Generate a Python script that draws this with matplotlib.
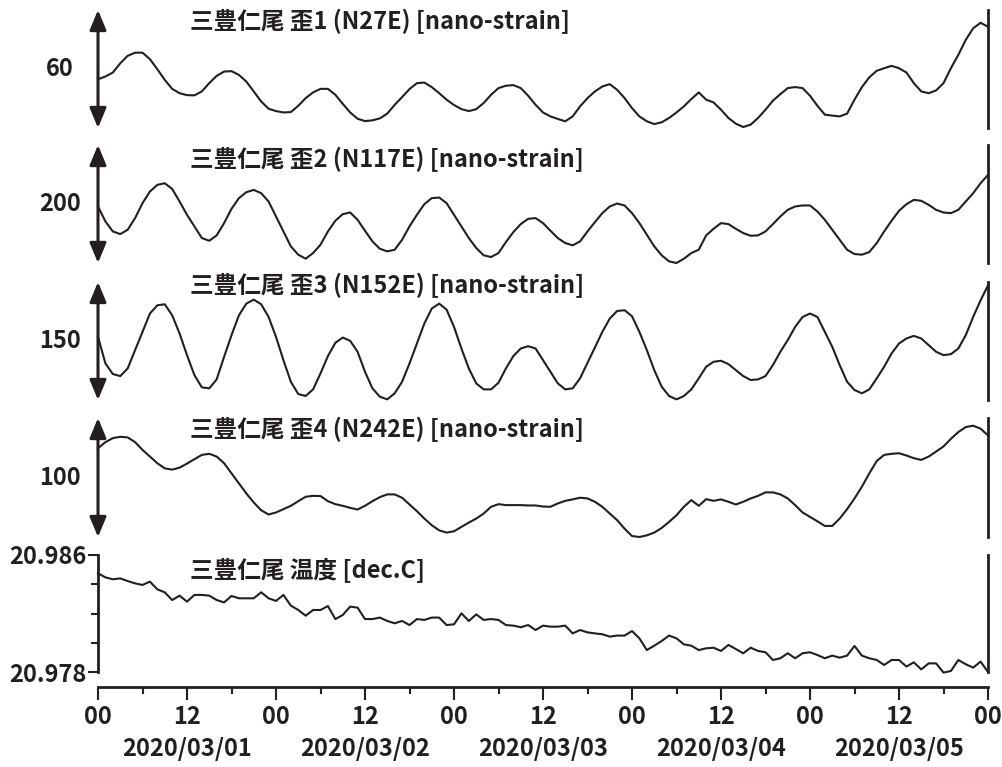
import numpy as np
import pandas as pd
import matplotlib
matplotlib.use('Agg')
import matplotlib.pyplot as plt
import matplotlib.dates as mdates
from matplotlib.patches import ArrowStyle

plt.rcParams['font.family'] = ['Noto Sans CJK JP', 'DejaVu Sans']
plt.rcParams['font.weight'] = 'bold'

# hourly samples, 2020/03/01 00:00 .. 2020/03/06 00:00
times = pd.date_range('2020-03-01 00:00', '2020-03-06 00:00', freq='h')
days = pd.date_range('2020-03-01', '2020-03-05', freq='D')

# strain values [nano-strain], relative to the bottom of each scale bar
strain1 = [24.8, 26.2, 28.2, 32.9, 36.7, 38.3, 38.3, 35.0, 29.9, 24.5,
           19.9, 17.7, 16.7, 16.6, 18.6, 22.8, 26.5, 28.7, 28.9, 27.0,
           23.6, 18.6, 13.5, 9.8, 8.6, 7.9, 8.1, 11.3, 15.2, 18.1,
           19.9, 19.9, 16.9, 12.3, 7.9, 4.7, 3.5, 3.9, 4.9, 7.3,
           11.8, 15.7, 19.8, 22.8, 23.1, 20.8, 17.7, 14.4, 11.7, 9.6,
           8.6, 9.6, 12.7, 16.9, 20.3, 21.5, 21.8, 20.3, 16.4, 11.8,
           7.9, 5.9, 4.6, 3.4, 5.9, 11.0, 15.2, 18.6, 21.1, 22.3,
           19.4, 15.2, 10.1, 5.9, 3.4, 2.0, 2.9, 5.1, 7.9, 11.0,
           14.7, 18.1, 14.4, 13.0, 9.3, 5.1, 2.2, 0.5, 1.7, 5.1,
           9.3, 13.9, 17.2, 20.3, 20.8, 20.3, 16.4, 11.3, 6.8, 6.3,
           5.9, 7.3, 14.4, 20.8, 25.8, 29.1, 30.4, 31.6, 30.4, 28.2,
           22.8, 18.6, 17.7, 19.1, 22.8, 30.4, 37.2, 44.8, 50.7, 53.5,
           51.5]
strain2 = [95.8, 70.4, 53.5, 49.0, 56.3, 76.1, 101.4, 121.1, 132.4, 135.2,
           125.6, 104.2, 81.7, 62.0, 42.3, 37.7, 46.8, 67.6, 91.8, 109.9,
           120.0, 123.9, 118.3, 104.2, 78.9, 53.5, 28.2, 14.1, 7.3, 16.9,
           31.0, 53.5, 71.6, 82.8, 85.6, 73.2, 54.7, 36.6, 24.2, 19.7,
           22.5, 39.4, 62.0, 81.7, 99.7, 109.9, 111.0, 101.4, 81.7, 62.0,
           42.3, 25.4, 13.0, 10.1, 16.9, 35.5, 52.4, 65.9, 74.9, 76.1,
           67.6, 54.7, 42.3, 33.8, 29.9, 36.6, 53.5, 69.3, 84.5, 95.8,
           100.8, 97.5, 84.5, 67.6, 47.9, 28.2, 13.0, 2.8, 0.0, 7.3,
           16.9, 22.5, 46.8, 58.0, 67.6, 65.9, 58.0, 50.7, 46.2, 46.8,
           53.5, 65.9, 78.9, 90.1, 95.8, 97.5, 97.5, 87.3, 73.2, 56.3,
           39.4, 22.5, 15.2, 14.1, 18.6, 33.8, 53.5, 71.6, 88.5, 99.7,
           107.0, 105.4, 98.6, 90.1, 85.6, 84.5, 90.1, 104.2, 118.3, 135.2,
           149.3]
strain3 = [80.3, 46.5, 33.0, 30.4, 40.1, 63.4, 86.6, 109.9, 120.4, 121.7,
           107.7, 84.5, 57.0, 31.7, 16.1, 14.8, 26.2, 54.9, 82.4, 107.7,
           122.5, 127.6, 121.7, 105.6, 80.3, 50.7, 23.2, 7.6, 5.1, 13.5,
           33.8, 55.8, 72.7, 79.4, 75.2, 61.3, 35.9, 14.8, 4.2, 0.8,
           8.5, 23.2, 46.5, 71.8, 97.2, 116.2, 122.5, 114.9, 93.0, 65.5,
           40.1, 21.1, 13.5, 13.5, 22.0, 40.1, 55.8, 65.5, 68.4, 65.5,
           50.7, 35.9, 21.1, 13.5, 14.8, 27.5, 47.3, 66.8, 86.6, 103.5,
           113.2, 114.1, 106.5, 86.6, 63.4, 38.0, 16.9, 5.1, 0.8, 5.1,
           13.5, 27.5, 42.3, 48.6, 49.9, 45.6, 38.0, 30.4, 25.4, 26.2,
           30.4, 44.4, 61.3, 76.1, 93.0, 105.6, 109.9, 105.6, 86.6, 67.6,
           44.4, 23.2, 12.7, 8.5, 13.5, 27.5, 42.3, 59.2, 71.8, 78.2,
           81.5, 78.2, 69.7, 61.3, 57.0, 58.3, 65.5, 82.4, 105.6, 126.7,
           145.7]
strain4 = [74.6, 79.7, 83.1, 84.2, 83.7, 79.7, 73.2, 67.6, 62.0, 57.7,
           56.6, 58.3, 61.7, 65.4, 69.0, 69.9, 67.6, 62.0, 53.5, 45.1,
           36.6, 29.0, 22.5, 18.9, 20.6, 23.4, 26.2, 30.1, 33.8, 34.6,
           34.4, 30.1, 27.6, 26.2, 24.5, 23.1, 26.2, 30.1, 33.5, 35.8,
           35.8, 33.0, 27.3, 21.7, 15.5, 9.9, 5.6, 3.7, 4.8, 8.5,
           12.1, 15.5, 19.7, 25.4, 27.6, 26.8, 26.8, 26.8, 26.5, 26.5,
           25.6, 25.4, 28.2, 30.4, 31.6, 33.0, 32.4, 29.6, 25.4, 19.7,
           14.1, 7.0, 0.8, 0.0, 1.4, 3.7, 7.6, 12.7, 18.3, 25.4,
           31.0, 26.2, 31.8, 30.4, 31.6, 29.6, 27.3, 29.6, 32.4, 34.6,
           37.5, 37.5, 35.8, 32.4, 26.8, 20.6, 16.9, 13.2, 9.3, 9.3,
           15.5, 23.4, 32.4, 42.3, 53.5, 63.9, 69.0, 69.9, 70.4, 68.5,
           66.2, 64.8, 67.6, 71.8, 76.1, 82.5, 88.2, 92.4, 93.5, 91.0,
           85.4]
# temperature [deg C]
temperature = [20.98475, 20.98447, 20.98434, 20.98440, 20.98422, 20.98406, 20.98395, 20.98418, 20.98365, 20.98345,
               20.98292, 20.98322, 20.98281, 20.98327, 20.98327, 20.98322, 20.98292, 20.98276, 20.98320, 20.98304,
               20.98304, 20.98304, 20.98345, 20.98304, 20.98286, 20.98327, 20.98254, 20.98224, 20.98185, 20.98224,
               20.98224, 20.98251, 20.98162, 20.98190, 20.98247, 20.98240, 20.98162, 20.98162, 20.98172, 20.98149,
               20.98133, 20.98149, 20.98121, 20.98162, 20.98156, 20.98172, 20.98172, 20.98121, 20.98126, 20.98201,
               20.98149, 20.98194, 20.98156, 20.98162, 20.98156, 20.98121, 20.98117, 20.98106, 20.98121, 20.98087,
               20.98117, 20.98110, 20.98110, 20.98117, 20.98064, 20.98087, 20.98071, 20.98064, 20.98058, 20.98042,
               20.98049, 20.98049, 20.98080, 20.98030, 20.97950, 20.97980, 20.98012, 20.98049, 20.98030, 20.97989,
               20.97980, 20.97950, 20.97962, 20.97966, 20.97944, 20.97985, 20.97957, 20.97928, 20.97966, 20.97944,
               20.97935, 20.97882, 20.97894, 20.97928, 20.97894, 20.97928, 20.97935, 20.97916, 20.97894, 20.97912,
               20.97898, 20.97912, 20.97978, 20.97912, 20.97894, 20.97882, 20.97848, 20.97882, 20.97882, 20.97837,
               20.97866, 20.97818, 20.97859, 20.97859, 20.97796, 20.97807, 20.97882, 20.97853, 20.97830, 20.97871,
               20.97800]

strain_titles = ['三豊仁尾 歪1 (N27E) [nano-strain]', '三豊仁尾 歪2 (N117E) [nano-strain]',
                 '三豊仁尾 歪3 (N152E) [nano-strain]', '三豊仁尾 歪4 (N242E) [nano-strain]']
strain_scales = [60, 200, 150, 100]
temp_title = '三豊仁尾 温度 [dec.C]'
temp_range = [20.978, 20.986]

INK = '#231f20'
FS = 17
W, H = 1002, 767

fig = plt.figure(figsize=(W / 100, H / 100), dpi=100)

def panel(top, bottom):
    return fig.add_axes([98 / W, 1 - bottom / H, 890 / W, (bottom - top) / H])

# pixel extents of each panel (top, bottom)
rows = [(10, 128), (145, 263), (282, 400), (418, 537), (555, 672)]
title_y = [0.90, 0.88, 0.97, 0.90, 0.87]

head = ArrowStyle('<|-|>', head_length=0.6, head_width=0.25)

for i, series in enumerate([strain1, strain2, strain3, strain4]):
    ax = panel(*rows[i])
    ax.plot(times, series, color=INK, lw=1.5, clip_on=False)
    ax.set_xlim(times[0], times[-1])
    ax.set_ylim(0, strain_scales[i])
    for s in ['top', 'bottom', 'left']:
        ax.spines[s].set_visible(False)
    ax.spines['right'].set_linewidth(2.0)
    ax.spines['right'].set_color(INK)
    ax.set_xticks([])
    ax.set_yticks([])
    ax.patch.set_visible(False)
    # scale bar
    ax.annotate('', xy=(0, strain_scales[i]), xytext=(0, 0),
                xycoords=('axes fraction', 'data'), textcoords=('axes fraction', 'data'),
                arrowprops=dict(arrowstyle=head, color=INK, lw=2.2, mutation_scale=20,
                                shrinkA=0, shrinkB=0),
                annotation_clip=False)
    ax.text(-0.043, 0.5, str(strain_scales[i]), transform=ax.transAxes,
            ha='center', va='center', fontsize=FS, color=INK)
    ax.text(0.1034, title_y[i], strain_titles[i], transform=ax.transAxes,
            ha='left', va='center', fontsize=FS, color=INK)

# temperature panel with the time axis
ax = panel(*rows[4])
ax.plot(times, temperature, color=INK, lw=1.5, clip_on=False)
ax.set_xlim(times[0], times[-1])
ax.set_ylim(*temp_range)
ax.spines['top'].set_visible(False)
for s in ['left', 'right', 'bottom']:
    ax.spines[s].set_linewidth(2.0)
    ax.spines[s].set_color(INK)
ax.spines['bottom'].set_position(('outward', 10.8))
ax.set_yticks(temp_range)
ax.set_yticklabels(['%.3f' % v for v in temp_range])
ax.set_yticks(np.linspace(temp_range[0], temp_range[1], 5)[1:-1], minor=True)
ax.tick_params(axis='y', which='major', length=7, width=1.5, color=INK,
               labelsize=FS, labelcolor=INK, pad=1)
ax.tick_params(axis='y', which='minor', length=5, width=1.5, color=INK)

ax.xaxis.set_major_locator(mdates.HourLocator(byhour=[0, 12]))
ax.xaxis.set_major_formatter(mdates.DateFormatter('%H'))
ax.xaxis.set_minor_locator(mdates.HourLocator(byhour=[6, 18]))
ax.tick_params(axis='x', which='major', length=9, width=1.5, color=INK,
               labelsize=FS, labelcolor=INK, pad=4)
ax.tick_params(axis='x', which='minor', length=5, width=1.5, color=INK)
ax.patch.set_visible(False)

for d in days:
    ax.text(d + pd.Timedelta(hours=12), -0.66, d.strftime('%Y/%m/%d'),
            transform=ax.get_xaxis_transform(), ha='center', va='center',
            fontsize=FS, color=INK)
ax.text(0.1034, title_y[4], temp_title, transform=ax.transAxes,
        ha='left', va='center', fontsize=FS, color=INK)

fig.savefig('out.png', dpi=100)
